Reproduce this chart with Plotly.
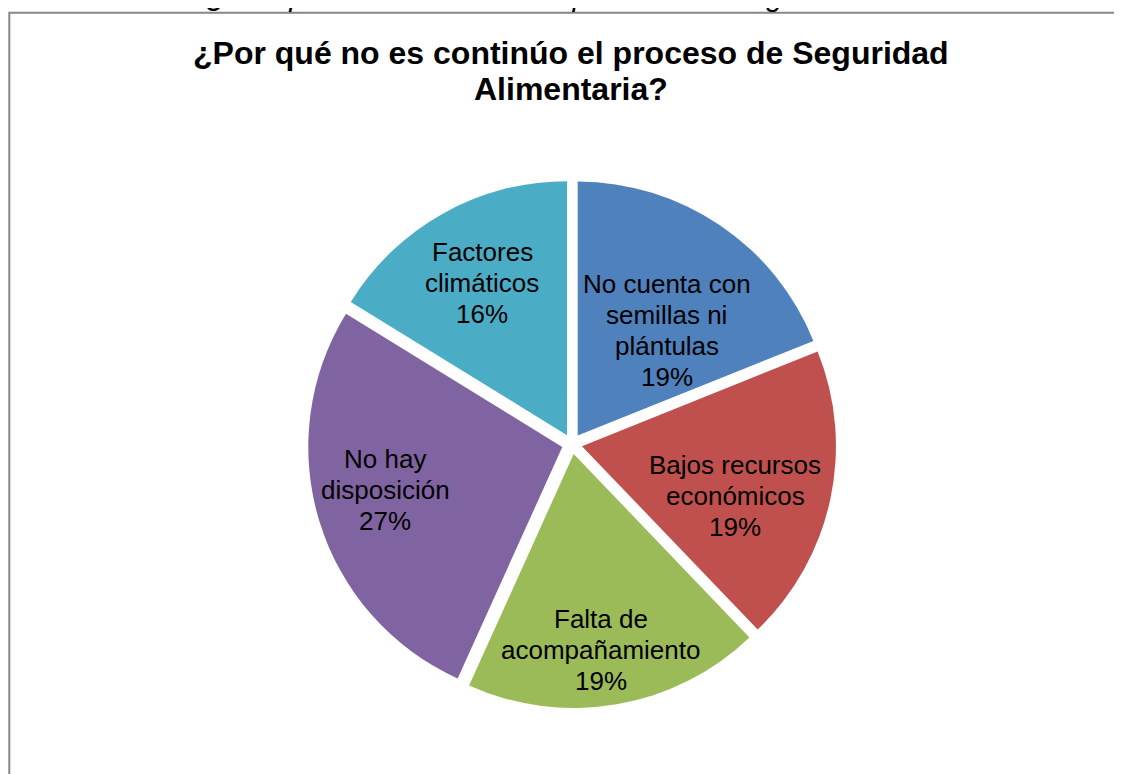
import plotly.graph_objects as go

# ---- data ----
categories = ["No cuenta con<br>semillas ni<br>plántulas", "Bajos recursos<br>económicos",
              "Falta de<br>acompañamiento", "No hay<br>disposición", "Factores<br>climáticos"]
counts = [7, 7, 7, 10, 6]
colors = ["#4F81BD", "#C0504D", "#9BBB59", "#8064A2", "#4BACC6"]
title_lines = ["¿Por qué no es continúo el proceso de Seguridad", "Alimentaria?"]
caption_text = "Gráfica 11. ¿Por qué no es continúo el proceso de Seguridad Alimentaria"

# ---- layout / style ----
W, H = 1122, 774
OFF = 8  # page body margin offset
cx, cy, r, pull = 572 - OFF, 444 - OFF, 254, 0.04
D = 2 * r * (1 + pull)
FONT = "Liberation Sans, Arial, sans-serif"
label_size = 26
line_gap = 31
# label block centres relative to the pie centre, in units of the radius
label_anchor = [(0.374, -0.447), (0.642, 0.203), (0.114, 0.811), (-0.736, 0.181), (-0.354, -0.632)]


def px(x):
    return x / W


def py(y):
    return 1 - y / H


fig = go.Figure(go.Pie(
    labels=categories,
    values=counts,
    sort=False,
    direction="clockwise",
    rotation=0,
    pull=[pull] * len(counts),
    marker=dict(colors=colors, line=dict(width=0)),
    textinfo="none",
    showlegend=False,
    hoverinfo="label+percent",
    domain=dict(x=[px(cx - D / 2), px(cx + D / 2)],
                y=[py(cy + D / 2), py(cy - D / 2)]),
))

annotations = []
total = sum(counts)
for cat, val, (ax, ay) in zip(categories, counts, label_anchor):
    lines = cat.split("<br>") + [f"{round(100 * val / total)}%"]
    bx, by = cx + ax * r, cy + ay * r
    n = len(lines)
    for i, ln in enumerate(lines):
        yy = by + (i - (n - 1) / 2) * line_gap
        annotations.append(dict(text=ln, xref="paper", yref="paper", x=px(bx), y=py(yy),
                                xanchor="center", yanchor="middle", showarrow=False,
                                font=dict(family=FONT, size=label_size, color="black")))

title_y = [53 - OFF, 89 - OFF]
for ln, yy in zip(title_lines, title_y):
    annotations.append(dict(text="<b>" + ln + "</b>", xref="paper", yref="paper",
                            x=px(571 - OFF), y=py(yy), xanchor="center", yanchor="middle",
                            showarrow=False, font=dict(family=FONT, size=32, color="black")))

annotations.append(dict(text="<i>" + caption_text + "</i>", xref="paper", yref="paper",
                        x=px(43), y=1 + 12 / H, xanchor="left", yanchor="middle", showarrow=False,
                        font=dict(family=FONT, size=30, color="black")))

fig.update_layout(
    width=W, height=H,
    margin=dict(l=0, r=0, t=0, b=0),
    paper_bgcolor="white",
    plot_bgcolor="white",
    shapes=[dict(type="rect", xref="paper", yref="paper",
                 x0=px(9.3 - OFF), x1=1.05, y0=-0.05, y1=py(12.8 - OFF),
                 line=dict(color="#878787", width=2), fillcolor="rgba(0,0,0,0)")],
    annotations=annotations,
)

fig.write_html("out.html")
